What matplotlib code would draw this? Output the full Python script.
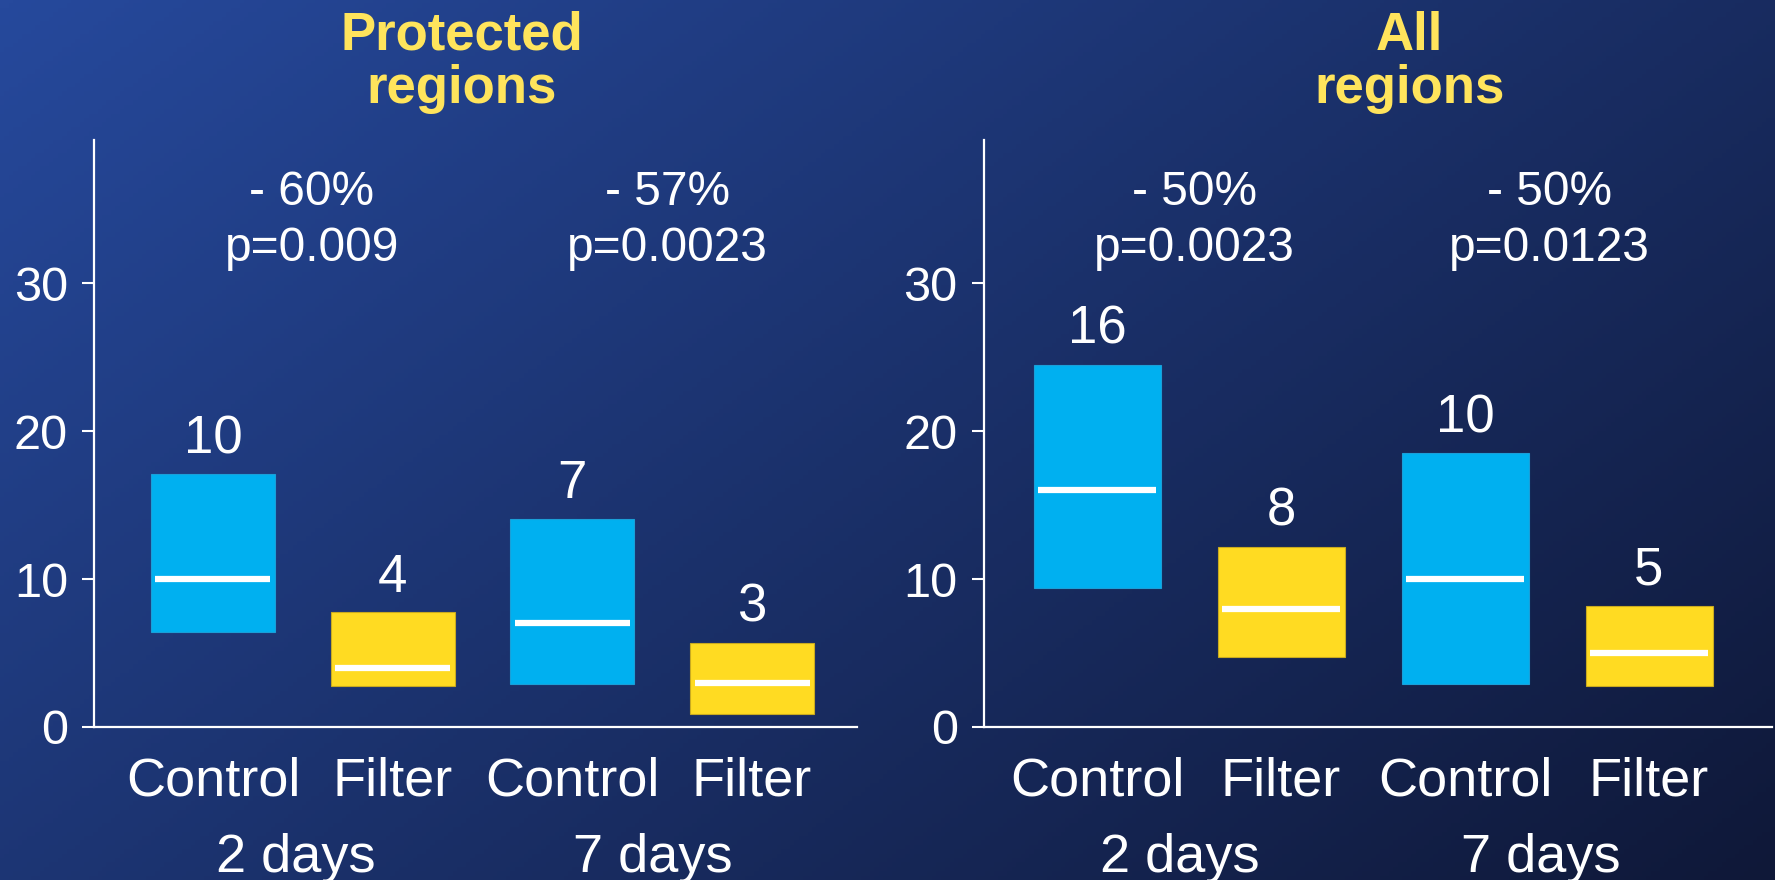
import numpy as np
import matplotlib.pyplot as plt
from matplotlib.colors import LinearSegmentedColormap

# ------------------------------------------------------------------------------
# Data: lesion volume per group (box = interquartile range, line = median)
# ------------------------------------------------------------------------------
groups = ["Control", "Filter", "Control", "Filter"]
days = ["2 days", "7 days"]

protected_q1 = [6.4, 2.8, 2.9, 0.85]
protected_median = [10, 4, 7, 3]
protected_q3 = [17.1, 7.75, 14.05, 5.7]
protected_change = ["- 60%\np=0.009", "- 57%\np=0.0023"]

all_q1 = [9.4, 4.75, 2.9, 2.8]
all_median = [16, 8, 10, 5]
all_q3 = [24.5, 12.2, 18.5, 8.2]
all_change = ["- 50%\np=0.0023", "- 50%\np=0.0123"]

CYAN = "#00b0f0"
YELLOW = "#ffdb22"
TITLE_YELLOW = "#ffe45c"
FONT = "Liberation Sans"

plt.rcParams["font.family"] = [FONT, "DejaVu Sans"]

fig = plt.figure(figsize=(17.75, 8.8), dpi=100)

# diagonal blue gradient behind everything
bg = fig.add_axes([0, 0, 1, 1], zorder=-10)
yy, xx = np.mgrid[0:1:200j, 0:1:400j]
t = 0.6 * xx + 0.4 * yy
cmap = LinearSegmentedColormap.from_list("bg", ["#26499c", "#0f1838"])
bg.imshow(t, cmap=cmap, aspect="auto", extent=[0, 1, 0, 1], origin="upper")
bg.set_axis_off()


def draw_panel(rect, xlim, q1, med, q3, change, change_x, day_x, title, title_x):
    ax = fig.add_axes(rect)
    ax.set_facecolor("none")
    x = np.arange(1, len(med) + 1)
    colors = [CYAN, YELLOW, CYAN, YELLOW]
    edges = ["#1a9fd8", "#c9aa20", "#1a9fd8", "#c9aa20"]
    width = 0.69
    heights = np.array(q3) - np.array(q1)
    ax.bar(x, heights, bottom=q1, width=width, color=colors,
           edgecolor=edges, linewidth=0.8, zorder=2)
    ax.hlines(med, x - width / 2 + 0.025, x + width / 2 - 0.025,
              colors="white", linewidth=4.5, zorder=3)

    for xi, m, top in zip(x, med, q3):
        ax.annotate(str(m), xy=(xi, top), xytext=(0, 15), textcoords="offset points",
                    ha="center", va="baseline", fontsize=38, color="white")

    for cx, txt in zip(change_x, change):
        ax.text(cx, 37.65, txt, ha="center", va="top", fontsize=34.5,
                color="white", linespacing=1.3)

    for dx, d in zip(day_x, days):
        ax.annotate(d, xy=(dx, 0), xycoords=("data", "axes fraction"),
                    xytext=(0, -104.5), textcoords="offset points",
                    ha="center", va="baseline", fontsize=39, color="white")

    ax.set_xlim(*xlim)
    ax.set_ylim(0, 39.7)
    ax.set_yticks([0, 10, 20, 30])
    ax.set_xticks(x)
    ax.set_xticklabels(groups)
    for lab in ax.get_xticklabels():
        lab.set_verticalalignment("baseline")
    ax.tick_params(axis="x", length=0, pad=49, labelsize=39, labelcolor="white")
    ax.tick_params(axis="y", length=9, width=1.5, color="white", pad=10,
                   labelsize=35, labelcolor="white")
    for side in ("top", "right"):
        ax.spines[side].set_visible(False)
    for side in ("left", "bottom"):
        ax.spines[side].set_color("white")
        ax.spines[side].set_linewidth(1.6)

    fig.text(title_x, 0.988, title, ha="center", va="top", fontsize=38,
             fontweight="bold", color=TITLE_YELLOW, linespacing=1.1)
    return ax


draw_panel([0.0532, 0.1739, 0.4296, 0.667], (0.3405, 4.584),
           protected_q1, protected_median, protected_q3,
           protected_change, [1.55, 3.53], [1.46, 3.45],
           "Protected\nregions", 0.260)
draw_panel([0.5544, 0.1739, 0.4439, 0.667], (0.386, 4.668),
           all_q1, all_median, all_q3,
           all_change, [1.53, 3.46], [1.45, 3.41],
           "All\nregions", 0.794)

fig.savefig("out.png", dpi=100)
